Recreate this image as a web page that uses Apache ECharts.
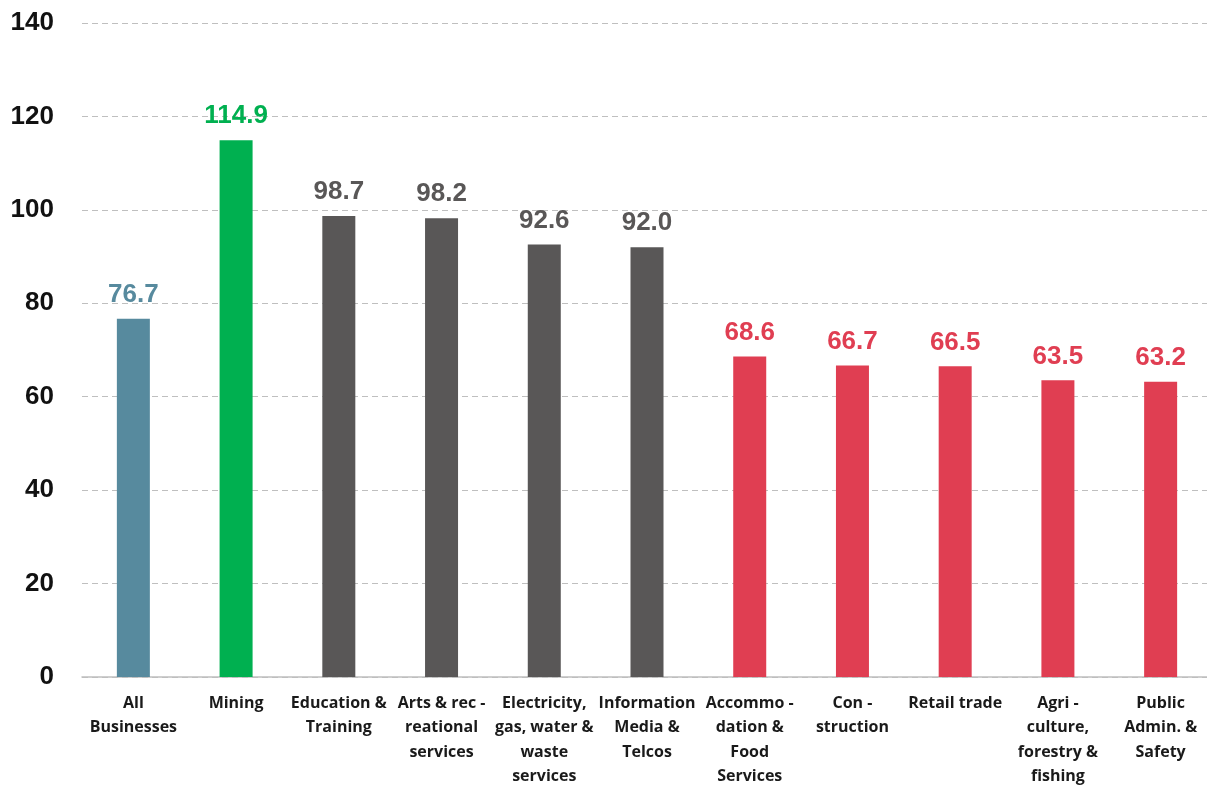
<!DOCTYPE html>
<html><head><meta charset="utf-8">
<script src="https://cdn.jsdelivr.net/npm/echarts@6/dist/echarts.min.js"></script>
<style>html,body{margin:0;padding:0;background:#fff;overflow:hidden}#c{width:1207px;height:785px}</style>
</head><body><div id="c"></div>
<script>
const categories = ["All\nBusinesses","Mining","Education &\nTraining","Arts & rec -\nreational\nservices","Electricity,\ngas, water &\nwaste\nservices","Information\nMedia &\nTelcos","Accommo -\ndation &\nFood\nServices","Con -\nstruction","Retail trade","Agri -\nculture,\nforestry &\nfishing","Public\nAdmin. &\nSafety"];
const values = [76.7,114.9,98.7,98.2,92.6,92.0,68.6,66.7,66.5,63.5,63.2];
const groups = ["all","up","mid","mid","mid","mid","down","down","down","down","down"];
const yTicks = [0,20,40,60,80,100,120,140];
const palette = {all:"#578A9E", up:"#00B050", mid:"#595757", down:"#E03E52"};

const chart = echarts.init(document.getElementById('c'));
chart.setOption({
  animation:false,
  grid:{left:82, top:23, width:1130, height:654, outerBoundsMode:'none', containLabel:false},
  xAxis:{type:'category', data:categories,
    axisLine:{lineStyle:{color:'#BFBFBF', width:1.5}}, axisTick:{show:false},
    axisLabel:{interval:0, margin:14, fontFamily:'Open Sans', fontWeight:'bold', fontSize:16, lineHeight:24.5, color:'#1a1a1a'}},
  yAxis:{type:'value', min:yTicks[0], max:yTicks[yTicks.length-1], interval:20,
    axisLine:{show:false}, axisTick:{show:false},
    splitLine:{lineStyle:{color:'#BFBFBF', type:[6,4], width:1.2}},
    axisLabel:{margin:28, fontFamily:'Liberation Sans', fontWeight:'bold', fontSize:26, color:'#111'}},
  series:[{type:'bar', barWidth:33,
    data: values.map((v,i)=>({value:v, itemStyle:{color:palette[groups[i]]},
      label:{color:palette[groups[i]]}})),
    label:{show:true, position:'top', distance:11, fontFamily:'Liberation Sans', fontWeight:'bold', fontSize:26,
      formatter:p=>p.value.toFixed(1)}}]
});
</script></body></html>
